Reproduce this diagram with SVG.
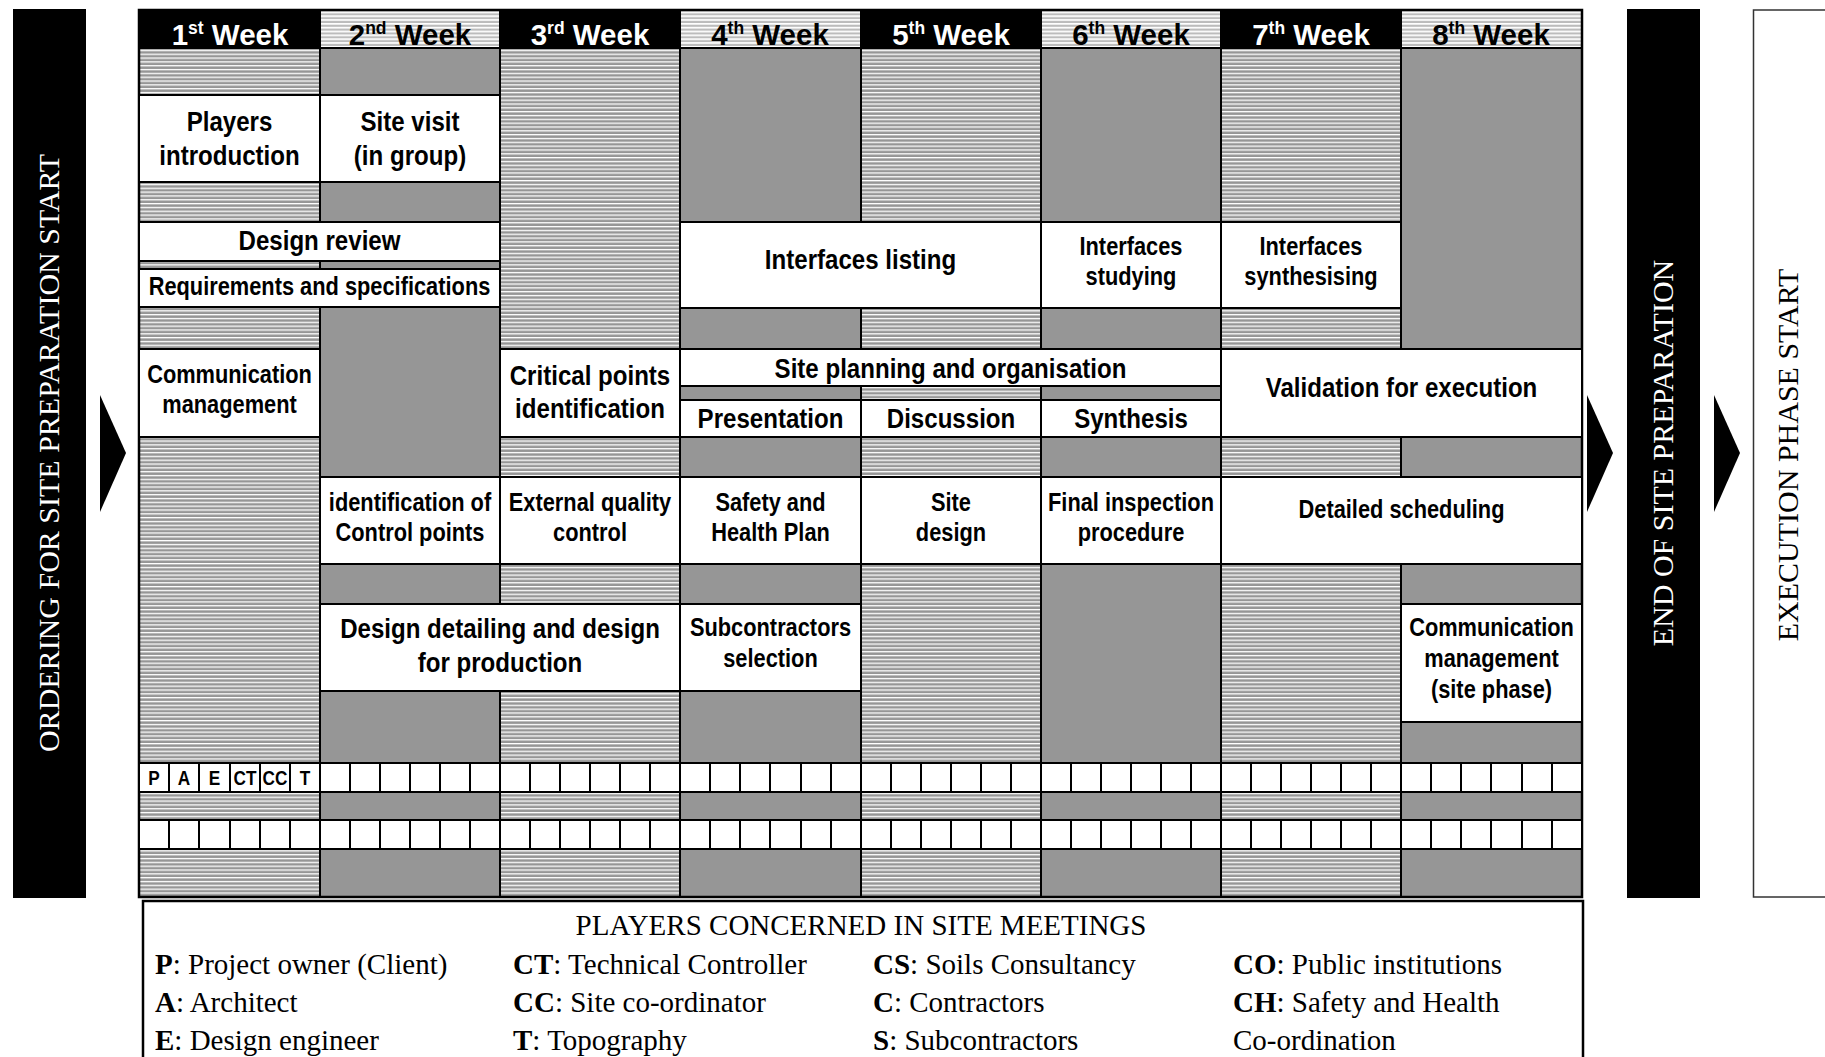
<svg xmlns="http://www.w3.org/2000/svg" width="1825" height="1057" viewBox="0 0 1825 1057">
<defs>
<pattern id="hb" width="8" height="3.83" patternUnits="userSpaceOnUse"><rect width="8" height="3.83" fill="#969696"/><rect width="8" height="1.3" fill="#fff"/></pattern>
<pattern id="hh" width="8" height="3.83" patternUnits="userSpaceOnUse"><rect width="8" height="3.83" fill="#bcbcbc"/><rect width="8" height="1.7" fill="#fff"/></pattern>
</defs>
<style>
.box{fill:#fff;stroke:#000;stroke-width:2}
.t{font-family:"Liberation Sans",Arial,sans-serif;font-weight:bold;text-anchor:middle;fill:#000}
.b{font-size:28px}
.s{font-size:26.6px}
.cb{font-size:21px}
.hd{font-family:"Liberation Sans",Arial,sans-serif;font-weight:bold;font-size:29.5px;text-anchor:middle}
.sup{font-size:17.5px}
.w{fill:#fff}
.k{fill:#000}
.vt{font-family:"Liberation Serif","Times New Roman",serif;font-size:30px;text-anchor:middle}
.lg{font-family:"Liberation Serif","Times New Roman",serif;font-size:29px;fill:#000}
.lg tspan.bd{font-weight:bold}
.gray{fill:#969696}
.hat{fill:url(#hb)}
.hhat{fill:url(#hh)}
.line{stroke:#000;stroke-width:2;fill:none}
</style>

<g id="start-bar">
<rect x="13" y="9" width="73" height="889" fill="#000"/>
<text class="vt w" transform="translate(59,453) rotate(-90)">ORDERING FOR SITE PREPARATION START</text>
</g>
<g id="end-bar">
<rect x="1627" y="9" width="73" height="889" fill="#000"/>
<text class="vt w" transform="translate(1673,453) rotate(-90)">END OF SITE PREPARATION</text>
</g>
<g id="execution-box">
<rect x="1753.5" y="10" width="100" height="887" fill="#fff" stroke="#333" stroke-width="1.5"/>
<text class="vt k" transform="translate(1798,455) rotate(-90)">EXECUTION PHASE START</text>
</g>

<g id="connectors">
<polygon points="100,395 126,453 100,512" fill="#000"/>
<polygon points="1587,395 1613,453 1587,512" fill="#000"/>
<polygon points="1714,395 1740,453 1714,512" fill="#000"/>
</g>

<g id="grid">
<rect class="hat" x="139" y="48" width="181" height="849"/>
<rect class="gray" x="320" y="48" width="180" height="849"/>
<rect class="hat" x="500" y="48" width="180" height="849"/>
<rect class="gray" x="680" y="48" width="181" height="849"/>
<rect class="hat" x="861" y="48" width="180" height="849"/>
<rect class="gray" x="1041" y="48" width="180" height="849"/>
<rect class="hat" x="1221" y="48" width="180" height="849"/>
<rect class="gray" x="1401" y="48" width="181" height="849"/>
<rect fill="#000" x="139" y="10" width="181" height="38"/>
<rect class="hhat" x="320" y="10" width="180" height="38"/>
<rect fill="#000" x="500" y="10" width="180" height="38"/>
<rect class="hhat" x="680" y="10" width="181" height="38"/>
<rect fill="#000" x="861" y="10" width="180" height="38"/>
<rect class="hhat" x="1041" y="10" width="180" height="38"/>
<rect fill="#000" x="1221" y="10" width="180" height="38"/>
<rect class="hhat" x="1401" y="10" width="181" height="38"/>
<path class="line" d="M320,10V897M500,10V897M680,10V897M861,10V897M1041,10V897M1221,10V897M1401,10V897M139,48H1582"/>
<rect x="139" y="10" width="1443" height="887" fill="none" stroke="#000" stroke-width="2.5"/>
</g>

<g id="headers">
<text class="hd w" x="230" y="45">1<tspan class="sup" dy="-11">st</tspan><tspan dy="11"> Week</tspan></text>
<text class="hd k" x="410" y="45">2<tspan class="sup" dy="-11">nd</tspan><tspan dy="11"> Week</tspan></text>
<text class="hd w" x="590" y="45">3<tspan class="sup" dy="-11">rd</tspan><tspan dy="11"> Week</tspan></text>
<text class="hd k" x="770" y="45">4<tspan class="sup" dy="-11">th</tspan><tspan dy="11"> Week</tspan></text>
<text class="hd w" x="951" y="45">5<tspan class="sup" dy="-11">th</tspan><tspan dy="11"> Week</tspan></text>
<text class="hd k" x="1131" y="45">6<tspan class="sup" dy="-11">th</tspan><tspan dy="11"> Week</tspan></text>
<text class="hd w" x="1311" y="45">7<tspan class="sup" dy="-11">th</tspan><tspan dy="11"> Week</tspan></text>
<text class="hd k" x="1491" y="45">8<tspan class="sup" dy="-11">th</tspan><tspan dy="11"> Week</tspan></text>
</g>

<g id="players-introduction"><rect class="box" x="139" y="95" width="181" height="87"/>
<text class="t b" transform="translate(229.5,131) scale(.86,1)">Players</text><text class="t b" transform="translate(229.5,165) scale(.86,1)">introduction</text></g>
<g id="site-visit"><rect class="box" x="320" y="95" width="180" height="87"/>
<text class="t b" transform="translate(410,131) scale(.86,1)">Site visit</text><text class="t b" transform="translate(410,165) scale(.86,1)">(in group)</text></g>
<g id="design-review"><rect class="box" x="139" y="222" width="361" height="39"/>
<text class="t b" transform="translate(319.5,250) scale(.86,1)">Design review</text></g>
<g id="requirements"><rect class="box" x="139" y="269" width="361" height="38"/>
<text class="t s" transform="translate(319.5,295) scale(.82,1)">Requirements and specifications</text></g>
<g id="interfaces-listing"><rect class="box" x="680" y="222" width="361" height="86"/>
<text class="t b" transform="translate(860.5,269) scale(.86,1)">Interfaces listing</text></g>
<g id="interfaces-studying"><rect class="box" x="1041" y="222" width="180" height="86"/>
<text class="t s" transform="translate(1131,255) scale(.82,1)">Interfaces</text><text class="t s" transform="translate(1131,285) scale(.82,1)">studying</text></g>
<g id="interfaces-synthesising"><rect class="box" x="1221" y="222" width="180" height="86"/>
<text class="t s" transform="translate(1311,255) scale(.82,1)">Interfaces</text><text class="t s" transform="translate(1311,285) scale(.82,1)">synthesising</text></g>

<g id="communication-management"><rect class="box" x="139" y="349" width="181" height="88"/>
<text class="t s" transform="translate(229.5,383) scale(.82,1)">Communication</text><text class="t s" transform="translate(229.5,413) scale(.82,1)">management</text></g>
<g id="critical-points"><rect class="box" x="500" y="349" width="180" height="88"/>
<text class="t b" transform="translate(590,385) scale(.86,1)">Critical points</text><text class="t b" transform="translate(590,418) scale(.86,1)">identification</text></g>
<g id="site-planning"><rect class="box" x="680" y="349" width="541" height="37"/>
<text class="t b" transform="translate(950.5,378) scale(.86,1)">Site planning and organisation</text></g>
<g id="presentation"><rect class="box" x="680" y="400" width="181" height="37"/>
<text class="t b" transform="translate(770.5,428) scale(.86,1)">Presentation</text></g>
<g id="discussion"><rect class="box" x="861" y="400" width="180" height="37"/>
<text class="t b" transform="translate(951,428) scale(.86,1)">Discussion</text></g>
<g id="synthesis"><rect class="box" x="1041" y="400" width="180" height="37"/>
<text class="t b" transform="translate(1131,428) scale(.86,1)">Synthesis</text></g>
<g id="validation"><rect class="box" x="1221" y="349" width="361" height="88"/>
<text class="t b" transform="translate(1401.5,397) scale(.86,1)">Validation for execution</text></g>

<g id="control-points"><rect class="box" x="320" y="477" width="180" height="87"/>
<text class="t s" transform="translate(410,511) scale(.82,1)">identification of</text><text class="t s" transform="translate(410,541) scale(.82,1)">Control points</text></g>
<g id="external-quality"><rect class="box" x="500" y="477" width="180" height="87"/>
<text class="t s" transform="translate(590,511) scale(.82,1)">External quality</text><text class="t s" transform="translate(590,541) scale(.82,1)">control</text></g>
<g id="safety-plan"><rect class="box" x="680" y="477" width="181" height="87"/>
<text class="t s" transform="translate(770.5,511) scale(.82,1)">Safety and</text><text class="t s" transform="translate(770.5,541) scale(.82,1)">Health Plan</text></g>
<g id="site-design"><rect class="box" x="861" y="477" width="180" height="87"/>
<text class="t s" transform="translate(951,511) scale(.82,1)">Site</text><text class="t s" transform="translate(951,541) scale(.82,1)">design</text></g>
<g id="final-inspection"><rect class="box" x="1041" y="477" width="180" height="87"/>
<text class="t s" transform="translate(1131,511) scale(.82,1)">Final inspection</text><text class="t s" transform="translate(1131,541) scale(.82,1)">procedure</text></g>
<g id="detailed-scheduling"><rect class="box" x="1221" y="477" width="361" height="87"/>
<text class="t s" transform="translate(1401.5,518) scale(.82,1)">Detailed scheduling</text></g>

<g id="design-detailing"><rect class="box" x="320" y="604" width="360" height="87"/>
<text class="t b" transform="translate(500,638) scale(.86,1)">Design detailing and design</text><text class="t b" transform="translate(500,672) scale(.86,1)">for production</text></g>
<g id="subcontractors-selection"><rect class="box" x="680" y="604" width="181" height="87"/>
<text class="t s" transform="translate(770.5,636) scale(.82,1)">Subcontractors</text><text class="t s" transform="translate(770.5,667) scale(.82,1)">selection</text></g>
<g id="communication-site"><rect class="box" x="1401" y="604" width="181" height="118"/>
<text class="t s" transform="translate(1491.5,636) scale(.82,1)">Communication</text><text class="t s" transform="translate(1491.5,667) scale(.82,1)">management</text><text class="t s" transform="translate(1491.5,698) scale(.82,1)">(site phase)</text></g>

<g id="player-cells">
<rect class="box" x="139" y="763" width="1443" height="29"/>
<rect class="box" x="139" y="820" width="1443" height="29"/>
<path class="line" d="M169,763v29M199,763v29M230,763v29M260,763v29M290,763v29M320,763v29M350,763v29M380,763v29M410,763v29M440,763v29M470,763v29M500,763v29M530,763v29M560,763v29M590,763v29M620,763v29M650,763v29M680,763v29M710,763v29M740,763v29M770,763v29M801,763v29M831,763v29M861,763v29M891,763v29M921,763v29M951,763v29M981,763v29M1011,763v29M1041,763v29M1071,763v29M1101,763v29M1131,763v29M1161,763v29M1191,763v29M1221,763v29M1251,763v29M1281,763v29M1311,763v29M1341,763v29M1371,763v29M1401,763v29M1431,763v29M1461,763v29M1491,763v29M1522,763v29M1552,763v29"/>
<path class="line" d="M169,820v29M199,820v29M230,820v29M260,820v29M290,820v29M320,820v29M350,820v29M380,820v29M410,820v29M440,820v29M470,820v29M500,820v29M530,820v29M560,820v29M590,820v29M620,820v29M650,820v29M680,820v29M710,820v29M740,820v29M770,820v29M801,820v29M831,820v29M861,820v29M891,820v29M921,820v29M951,820v29M981,820v29M1011,820v29M1041,820v29M1071,820v29M1101,820v29M1131,820v29M1161,820v29M1191,820v29M1221,820v29M1251,820v29M1281,820v29M1311,820v29M1341,820v29M1371,820v29M1401,820v29M1431,820v29M1461,820v29M1491,820v29M1522,820v29M1552,820v29"/>
<text class="t cb" transform="translate(154,785) scale(.82,1)">P</text>
<text class="t cb" transform="translate(184,785) scale(.82,1)">A</text>
<text class="t cb" transform="translate(214.5,785) scale(.82,1)">E</text>
<text class="t cb" transform="translate(245,785) scale(.82,1)">CT</text>
<text class="t cb" transform="translate(275,785) scale(.82,1)">CC</text>
<text class="t cb" transform="translate(305,785) scale(.82,1)">T</text>
</g>

<g id="legend">
<rect x="143" y="901" width="1440" height="200" fill="#fff" stroke="#000" stroke-width="2.5"/>
<text class="lg" x="861" y="935" text-anchor="middle">PLAYERS CONCERNED IN SITE MEETINGS</text>
<text class="lg" x="155" y="974"><tspan class="bd">P</tspan>: Project owner (Client)</text>
<text class="lg" x="155" y="1012"><tspan class="bd">A</tspan>: Architect</text>
<text class="lg" x="155" y="1050"><tspan class="bd">E</tspan>: Design engineer</text>
<text class="lg" x="513" y="974"><tspan class="bd">CT</tspan>: Technical Controller</text>
<text class="lg" x="513" y="1012"><tspan class="bd">CC</tspan>: Site co-ordinator</text>
<text class="lg" x="513" y="1050"><tspan class="bd">T</tspan>: Topography</text>
<text class="lg" x="873" y="974"><tspan class="bd">CS</tspan>: Soils Consultancy</text>
<text class="lg" x="873" y="1012"><tspan class="bd">C</tspan>: Contractors</text>
<text class="lg" x="873" y="1050"><tspan class="bd">S</tspan>: Subcontractors</text>
<text class="lg" x="1233" y="974"><tspan class="bd">CO</tspan>: Public institutions</text>
<text class="lg" x="1233" y="1012"><tspan class="bd">CH</tspan>: Safety and Health</text>
<text class="lg" x="1233" y="1050">Co-ordination</text>
</g>
</svg>
